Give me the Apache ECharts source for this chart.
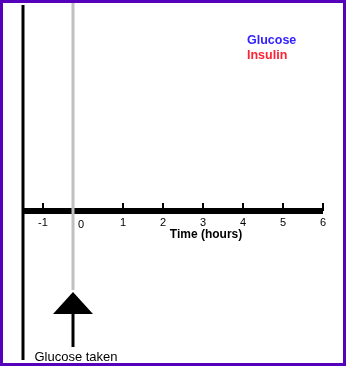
<!DOCTYPE html>
<html><head><meta charset="utf-8">
<script src="https://cdn.jsdelivr.net/npm/echarts@6/dist/echarts.min.js"></script>
<style>html,body{margin:0;padding:0;background:#fff}#c{width:346px;height:366px}</style>
</head><body><div id="c"></div>
<script>
const labelTicks = [-1, 0, 1, 2, 3, 4, 5, 6];
const markTicks = [-1, 1, 2, 3, 4, 5, 6];
const glucose = [];
const insulin = [];
const xMin = -1.5, xMax = 6;
const yMin = 0, yMax = 206;
const yLineBottom = -149;
const glucoseTakenTime = -0.25;
const markerTop = 208, markerBottom = -79;
const arrowHead = -92;
const stemTop = -103, stemBottom = -136;
const noteY = -146;
const FONT = 'Liberation Sans, Arial, sans-serif';

const chart = echarts.init(document.getElementById('c'));
chart.setOption({
  animation: false,
  backgroundColor: '#fff',
  textStyle: { fontFamily: FONT },
  graphic: [{ type: 'rect', shape: { x: 1.5, y: 1.5, width: 343, height: 363 }, style: { fill: 'none', stroke: '#5500bb', lineWidth: 3 }, z: 100 }],
  grid: { left: 23, right: 23, top: 5, bottom: 155, outerBoundsMode: 'none', containLabel: false },
  legend: {
    orient: 'vertical', left: 237, top: 29, icon: 'none', itemWidth: 0, itemGap: 1,
    selectedMode: false,
    textStyle: { fontFamily: FONT, fontSize: 12.5, fontWeight: 'bold' },
    data: [
      { name: 'Glucose', textStyle: { color: '#3322ff' } },
      { name: 'Insulin', textStyle: { color: '#ff2233' } }
    ]
  },
  xAxis: {
    type: 'value', min: xMin, max: xMax,
    axisLine: { onZero: false, lineStyle: { color: '#000', width: 6, cap: 'butt' } },
    axisTick: { show: true, inside: true, length: 8, customValues: markTicks, lineStyle: { color: '#000', width: 2 } },
    axisLabel: {
      customValues: labelTicks, color: '#000', fontSize: 11, margin: 6, fontFamily: FONT,
      formatter: v => v === 0 ? '{z|0}' : String(v),
      rich: { z: { fontSize: 11, fontFamily: FONT, color: '#000', padding: [2, 4, 0, 0] } }
    },
    splitLine: { show: false },
    name: 'Time (hours)', nameLocation: 'middle', nameGap: 18, nameMoveOverlap: false,
    nameTextStyle: { color: '#000', fontSize: 12, fontWeight: 'bold', fontFamily: FONT, padding: [0, 0, 0, 66] }
  },
  yAxis: {
    type: 'value', min: yMin, max: yMax,
    axisLine: { show: false }, axisTick: { show: false }, axisLabel: { show: false }, splitLine: { show: false }
  },
  series: [
    { name: 'Glucose', type: 'line', data: glucose, itemStyle: { color: '#3322ff' }, lineStyle: { color: '#3322ff' } },
    { name: 'Insulin', type: 'line', data: insulin, itemStyle: { color: '#ff2233' }, lineStyle: { color: '#ff2233' } },
    { name: 'yline', type: 'line', clip: false, symbol: 'none', z: 3,
      lineStyle: { color: '#000', width: 3 },
      data: [[xMin, yMax], [xMin, yLineBottom]] },
    { name: 'marker', type: 'line', clip: false, symbol: 'none', z: 1,
      lineStyle: { color: '#c0c0c0', width: 3 },
      data: [[glucoseTakenTime, markerTop], [glucoseTakenTime, markerBottom]] },
    { name: 'stem', type: 'line', clip: false, symbol: 'none',
      lineStyle: { color: '#000', width: 3 },
      data: [[glucoseTakenTime, stemTop], [glucoseTakenTime, stemBottom]] },
    { name: 'arrow', type: 'scatter', clip: false, symbol: 'triangle', symbolSize: [40, 22],
      itemStyle: { color: '#000', opacity: 1 }, data: [[glucoseTakenTime, arrowHead]] },
    { name: 'note', type: 'scatter', clip: false, symbolSize: 1, itemStyle: { color: 'rgba(0,0,0,0)', opacity: 1 },
      label: { show: true, position: 'inside', offset: [3, 0], formatter: 'Glucose taken', color: '#000', fontSize: 13, fontFamily: FONT },
      data: [[glucoseTakenTime, noteY]] }
  ]
});
</script></body></html>
